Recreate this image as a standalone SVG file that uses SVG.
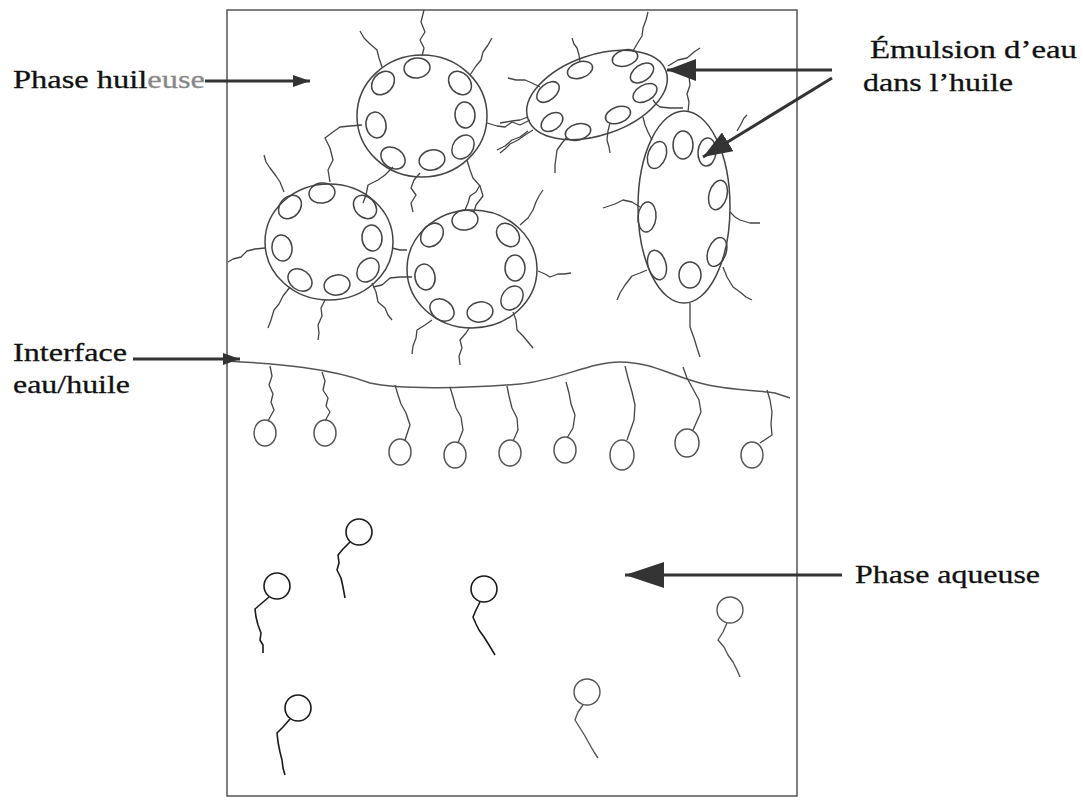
<svg xmlns="http://www.w3.org/2000/svg" width="1083" height="800" viewBox="0 0 1083 800">
  <style>
    .label { font-family: "Liberation Serif", "Times New Roman", serif; font-size: 26px; fill: #111; stroke: #111; stroke-width: 0.3; }
    .frame { fill: none; stroke: #555; stroke-width: 1.5; }
    .drop { fill: none; stroke: #444; stroke-width: 1.5; }
    .oval { fill: none; stroke: #444; stroke-width: 1.5; }
    .tail { fill: none; stroke: #444; stroke-width: 1.3; stroke-linejoin: round; }
    .iface { fill: none; stroke: #555; stroke-width: 1.5; }
    .head { fill: none; stroke: #555; stroke-width: 1.5; }
    .free { fill: none; stroke: #1a1a1a; stroke-width: 1.6; stroke-linejoin: round; }
    .free-grey { fill: none; stroke: #555; stroke-width: 1.4; stroke-linejoin: round; }
    .arrow { fill: none; stroke: #333; stroke-width: 3; }
  </style>
  <defs>
    <marker id="ah-s" markerUnits="userSpaceOnUse" markerWidth="18" markerHeight="12" refX="17" refY="6" orient="auto">
      <path d="M0,0 L17,6 L0,12 z" fill="#333"/>
    </marker>
    <marker id="ah-l" markerUnits="userSpaceOnUse" markerWidth="30" markerHeight="22" refX="29" refY="11" orient="auto">
      <path d="M0,0 L29,11 L0,22 z" fill="#333"/>
    </marker>
    <marker id="ah-xl" markerUnits="userSpaceOnUse" markerWidth="40" markerHeight="26" refX="39" refY="13" orient="auto">
      <path d="M0,0 L39,13 L0,26 z" fill="#333"/>
    </marker>
  </defs>

  <rect width="1083" height="800" fill="#fff"/>

  <!-- container -->
  <rect id="container" class="frame" x="227" y="10" width="570" height="786"/>

  <!-- labels -->
  <g id="label-oil">
    <text class="label" x="13" y="88" textLength="192" lengthAdjust="spacingAndGlyphs">Phase huil<tspan fill="#888" stroke="#888">euse</tspan></text>
  </g>
  <g id="label-emulsion">
    <text class="label" x="870" y="58" textLength="207" lengthAdjust="spacingAndGlyphs">Émulsion d’eau</text>
    <text class="label" x="863" y="91" textLength="150" lengthAdjust="spacingAndGlyphs">dans l’huile</text>
  </g>
  <g id="label-interface">
    <text class="label" x="13" y="361" textLength="114" lengthAdjust="spacingAndGlyphs">Interface</text>
    <text class="label" x="13" y="393" textLength="117" lengthAdjust="spacingAndGlyphs">eau/huile</text>
  </g>
  <g id="label-water">
    <text class="label" x="855" y="583" textLength="185" lengthAdjust="spacingAndGlyphs">Phase aqueuse</text>
  </g>

  <!-- droplet A: top centre -->
  <g id="droplet-a">
    <ellipse class="drop" cx="422" cy="116" rx="65" ry="61"/>
    <ellipse class="oval" cx="383" cy="83" rx="13" ry="10" transform="rotate(-49 383 83)"/>
    <ellipse class="oval" cx="417" cy="68" rx="13" ry="10" transform="rotate(-6 417 68)"/>
    <ellipse class="oval" cx="460" cy="83" rx="13" ry="10" transform="rotate(48 460 83)"/>
    <ellipse class="oval" cx="465" cy="115" rx="13" ry="10" transform="rotate(87 465 115)"/>
    <ellipse class="oval" cx="463" cy="147" rx="13" ry="10" transform="rotate(-54 463 147)"/>
    <ellipse class="oval" cx="432" cy="160" rx="13" ry="10" transform="rotate(167 432 160)"/>
    <ellipse class="oval" cx="393" cy="158" rx="13" ry="10" transform="rotate(35 393 158)"/>
    <ellipse class="oval" cx="376" cy="125" rx="13" ry="10" transform="rotate(80 376 125)"/>
    <path class="tail" d="M422,56 L424,48 L420,40 L425,32 L421,22 L424,10"/>
    <path class="tail" d="M382,67 L379,58 L377,50 L370,44 L364,38 L360,31"/>
    <path class="tail" d="M470,75 L476,66 L481,60 L483,52 L488,45 L492,38"/>
    <path class="tail" d="M487,123 L497,126 L505,127 L512,122 L520,125 L530,120"/>
    <path class="tail" d="M497,150 L505,146 L512,140 L520,137 L528,131"/>
    <path class="tail" d="M362,125 L350,126 L340,127 L333,132 L325,138 L330,148 L333,160 L328,170 L330,182"/>
    <path class="tail" d="M393,167 L385,175 L378,180 L368,185 L366,195 L363,203"/>
    <path class="tail" d="M420,173 L414,180 L411,188 L416,195 L411,203 L413,212"/>
    <path class="tail" d="M467,160 L470,170 L473,178 L480,186 L483,196 L476,205 L474,212"/>
  </g>

  <!-- droplet B: tilted, top right -->
  <g id="droplet-b">
    <ellipse class="drop" cx="597" cy="95" rx="73" ry="40" transform="rotate(-19 597 95)"/>
    <ellipse class="oval" cx="580" cy="70" rx="13" ry="8" transform="rotate(-19 580 70)"/>
    <ellipse class="oval" cx="625" cy="58" rx="13" ry="8" transform="rotate(-15 625 58)"/>
    <ellipse class="oval" cx="642" cy="73" rx="13" ry="8" transform="rotate(-35 642 73)"/>
    <ellipse class="oval" cx="645" cy="93" rx="13" ry="8" transform="rotate(-30 645 93)"/>
    <ellipse class="oval" cx="618" cy="115" rx="13" ry="8" transform="rotate(-20 618 115)"/>
    <ellipse class="oval" cx="578" cy="132" rx="13" ry="8" transform="rotate(-15 578 132)"/>
    <ellipse class="oval" cx="552" cy="122" rx="12" ry="8" transform="rotate(-35 552 122)"/>
    <ellipse class="oval" cx="548" cy="92" rx="13" ry="8" transform="rotate(-40 548 92)"/>
    <path class="tail" d="M633,51 L637,44 L642,36 L643,28 L646,20 L648,12"/>
    <path class="tail" d="M580,62 L579,55 L577,48 L574,44 L572,38"/>
    <path class="tail" d="M540,87 L532,83 L525,80 L516,80 L508,78"/>
    <path class="tail" d="M528,117 L520,120 L512,121 L506,122 L500,123"/>
    <path class="tail" d="M533,130 L525,135 L518,140 L510,144 L505,149 L500,153"/>
    <path class="tail" d="M567,137 L562,143 L557,150 L556,158 L555,165 L555,173"/>
    <path class="tail" d="M610,123 L608,131 L607,140 L609,147 L610,153"/>
    <path class="tail" d="M653,100 L656,104 L660,107 L670,108 L683,108"/>
    <path class="tail" d="M668,66 L678,60 L687,58 L694,52 L700,48"/>
  </g>

  <!-- droplet C: middle left -->
  <g id="droplet-c">
    <ellipse class="drop" cx="329" cy="242" rx="64" ry="58"/>
    <ellipse class="oval" cx="290" cy="207" rx="13" ry="10" transform="rotate(-48 290 207)"/>
    <ellipse class="oval" cx="322" cy="193" rx="13" ry="10" transform="rotate(-8 322 193)"/>
    <ellipse class="oval" cx="365" cy="207" rx="13" ry="10" transform="rotate(46 365 207)"/>
    <ellipse class="oval" cx="372" cy="238" rx="13" ry="10" transform="rotate(85 372 238)"/>
    <ellipse class="oval" cx="368" cy="270" rx="13" ry="10" transform="rotate(126 368 270)"/>
    <ellipse class="oval" cx="337" cy="285" rx="13" ry="10" transform="rotate(169 337 285)"/>
    <ellipse class="oval" cx="300" cy="280" rx="13" ry="10" transform="rotate(217 300 280)"/>
    <ellipse class="oval" cx="282" cy="248" rx="13" ry="10" transform="rotate(263 282 248)"/>
    <path class="tail" d="M284,192 L280,182 L276,176 L270,168 L266,162 L264,155"/>
    <path class="tail" d="M265,248 L255,249 L247,251 L241,257 L233,259 L228,262"/>
    <path class="tail" d="M290,287 L283,296 L279,304 L274,310 L271,320 L268,328"/>
    <path class="tail" d="M325,300 L321,308 L322,316 L318,325 L319,333 L318,340"/>
    <path class="tail" d="M372,283 L376,292 L378,302 L385,308 L388,315 L392,320"/>
    <path class="tail" d="M392,248 L400,250 L407,250"/>
  </g>

  <!-- droplet D: middle -->
  <g id="droplet-d">
    <ellipse class="drop" cx="472" cy="269" rx="65" ry="59"/>
    <ellipse class="oval" cx="432" cy="235" rx="13" ry="10" transform="rotate(-50 432 235)"/>
    <ellipse class="oval" cx="465" cy="220" rx="13" ry="10" transform="rotate(-8 465 220)"/>
    <ellipse class="oval" cx="508" cy="235" rx="13" ry="10" transform="rotate(47 508 235)"/>
    <ellipse class="oval" cx="515" cy="268" rx="13" ry="10" transform="rotate(89 515 268)"/>
    <ellipse class="oval" cx="512" cy="298" rx="13" ry="10" transform="rotate(126 512 298)"/>
    <ellipse class="oval" cx="480" cy="312" rx="13" ry="10" transform="rotate(169 480 312)"/>
    <ellipse class="oval" cx="442" cy="310" rx="13" ry="10" transform="rotate(216 442 310)"/>
    <ellipse class="oval" cx="425" cy="277" rx="13" ry="10" transform="rotate(260 425 277)"/>
    <path class="tail" d="M465,210 L468,203 L470,196 L476,192 L480,185"/>
    <path class="tail" d="M520,225 L528,218 L533,210 L536,202 L539,196 L543,190"/>
    <path class="tail" d="M538,271 L545,274 L550,277 L558,274 L564,274 L571,273"/>
    <path class="tail" d="M513,312 L516,320 L517,330 L523,336 L528,342 L533,348"/>
    <path class="tail" d="M470,327 L466,333 L460,340 L462,348 L459,356 L460,365"/>
    <path class="tail" d="M432,320 L425,325 L417,330 L416,338 L413,346 L412,354"/>
    <path class="tail" d="M412,277 L400,277 L390,278 L382,285 L373,287"/>
  </g>

  <!-- droplet E: upright, right side -->
  <g id="droplet-e">
    <ellipse class="drop" cx="684" cy="207" rx="46" ry="96"/>
    <ellipse class="oval" cx="657" cy="155" rx="9" ry="14" transform="rotate(20 657 155)"/>
    <ellipse class="oval" cx="683" cy="145" rx="10" ry="14"/>
    <ellipse class="oval" cx="707" cy="152" rx="9" ry="14" transform="rotate(5 707 152)"/>
    <ellipse class="oval" cx="718" cy="195" rx="9" ry="15" transform="rotate(15 718 195)"/>
    <ellipse class="oval" cx="717" cy="252" rx="9" ry="15" transform="rotate(20 717 252)"/>
    <ellipse class="oval" cx="690" cy="275" rx="11" ry="13"/>
    <ellipse class="oval" cx="657" cy="265" rx="9" ry="15" transform="rotate(-15 657 265)"/>
    <ellipse class="oval" cx="647" cy="217" rx="9" ry="15" transform="rotate(5 647 217)"/>
    <path class="tail" d="M688,112 L689,102 L687,94 L690,85 L689,77 L690,70"/>
    <path class="tail" d="M652,140 L648,132 L645,125 L643,117"/>
    <path class="tail" d="M737,131 L741,124 L744,118 L747,115"/>
    <path class="tail" d="M640,207 L632,202 L623,200 L615,204 L603,208"/>
    <path class="tail" d="M730,212 L735,217 L740,220 L750,223 L760,223"/>
    <path class="tail" d="M647,270 L640,273 L632,276 L625,285 L620,293 L617,300"/>
    <path class="tail" d="M723,267 L727,277 L733,287 L740,292 L746,297 L752,300"/>
    <path class="tail" d="M690,303 L690,315 L690,327 L694,338 L697,348 L700,357"/>
  </g>

  <!-- oil/water interface with anchored surfactants -->
  <g id="interface">
    <path class="iface" d="M227,361 C280,364 330,368 370,383 C400,390 470,388 520,384 C560,380 590,362 620,362 C650,362 670,375 700,383 C730,391 760,390 775,393 L790,398"/>
    <path class="tail" d="M270,366 L272,376 L269,385 L273,394 L271,402 L274,410 L268,421"/>
    <ellipse class="head" cx="265" cy="433" rx="11" ry="13"/>
    <path class="tail" d="M322,372 L325,381 L323,390 L328,398 L326,406 L330,412 L325,421"/>
    <ellipse class="head" cx="325" cy="433" rx="11" ry="13"/>
    <path class="tail" d="M395,385 L398,395 L401,404 L406,413 L410,425 L405,440"/>
    <ellipse class="head" cx="400" cy="452" rx="11" ry="13"/>
    <path class="tail" d="M450,387 L453,397 L456,408 L461,417 L463,430 L458,443"/>
    <ellipse class="head" cx="455" cy="455" rx="11" ry="13"/>
    <path class="tail" d="M507,386 L509,396 L512,408 L517,418 L518,430 L513,441"/>
    <ellipse class="head" cx="510" cy="453" rx="11" ry="13"/>
    <path class="tail" d="M566,382 L569,393 L571,404 L575,415 L573,428 L567,438"/>
    <ellipse class="head" cx="565" cy="450" rx="11" ry="13"/>
    <path class="tail" d="M625,366 L628,378 L632,392 L635,405 L634,420 L627,440"/>
    <ellipse class="head" cx="622" cy="455" rx="12" ry="15"/>
    <path class="tail" d="M683,367 L687,378 L693,389 L699,400 L701,412 L693,430"/>
    <ellipse class="head" cx="687" cy="443" rx="12" ry="14"/>
    <path class="tail" d="M767,390 L770,400 L772,412 L771,424 L772,435 L760,443"/>
    <ellipse class="head" cx="752" cy="455" rx="11" ry="13"/>
  </g>

  <!-- free surfactants in the aqueous phase -->
  <g id="free-1">
    <circle class="free" cx="359" cy="532" r="13"/>
    <path class="free" d="M350,542 L343,549 L338,555 L339,563 L337,570 L341,578 L343,587 L345,598"/>
  </g>
  <g id="free-2">
    <circle class="free" cx="277" cy="586" r="13"/>
    <path class="free" d="M269,597 L262,603 L255,609 L256,617 L258,625 L261,633 L260,640 L263,645 L263,653"/>
  </g>
  <g id="free-3">
    <circle class="free" cx="484" cy="589" r="13"/>
    <path class="free" d="M480,602 L476,610 L473,617 L476,624 L479,630 L484,637 L489,645 L495,655"/>
  </g>
  <g id="free-4">
    <circle class="free" cx="298" cy="708" r="13"/>
    <path class="free" d="M290,719 L283,727 L277,733 L278,742 L280,752 L282,760 L283,768 L285,775"/>
  </g>
  <g id="free-5">
    <circle class="free-grey" cx="730" cy="610" r="13"/>
    <path class="free-grey" d="M727,623 L723,632 L718,640 L724,647 L728,655 L733,662 L737,670 L740,677"/>
  </g>
  <g id="free-6">
    <circle class="free-grey" cx="587" cy="692" r="13"/>
    <path class="free-grey" d="M583,705 L578,712 L575,720 L580,728 L585,736 L590,745 L594,752 L598,758"/>
  </g>

  <!-- pointer arrows -->
  <g id="connectors">
    <line class="arrow" x1="205" y1="81" x2="310" y2="81" marker-end="url(#ah-s)"/>
    <line class="arrow" x1="832" y1="70" x2="667" y2="70" marker-end="url(#ah-l)"/>
    <line class="arrow" x1="832" y1="78" x2="703" y2="157" marker-end="url(#ah-l)"/>
    <line class="arrow" x1="133" y1="359" x2="240" y2="359" marker-end="url(#ah-s)"/>
    <line class="arrow" x1="842" y1="575" x2="625" y2="575" marker-end="url(#ah-xl)"/>
  </g>
</svg>
